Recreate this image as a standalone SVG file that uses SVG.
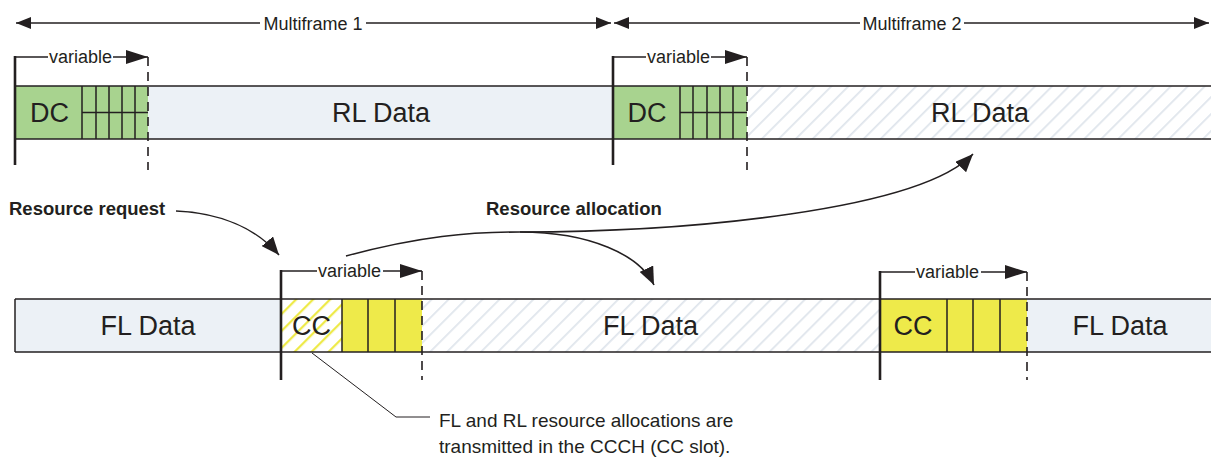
<svg xmlns="http://www.w3.org/2000/svg" width="1211" height="457" viewBox="0 0 1211 457">
<style>
text{font-family:"Liberation Sans",Arial,sans-serif;fill:#231f20}
.big{font-size:27px;text-anchor:middle}
.sm{font-size:18px}
.bold{font-size:18.5px;font-weight:bold}
.note{font-size:19px}
.bar{stroke:#231f20;stroke-width:1.5}
.blue{fill:#ecf1f6}
.green{fill:#a8d38f}
.yellow{fill:#eeea4a}
.cell{stroke:#231f20;stroke-width:1.5}
.ln{stroke:#231f20;stroke-width:1.5;fill:none}
.solid{stroke:#231f20;stroke-width:2.6;fill:none}
.dash{stroke:#231f20;stroke-width:1.6;stroke-dasharray:9 6;fill:none}
.curve{stroke:#231f20;stroke-width:1.6;fill:none}
</style>
<defs>
<pattern id="hg" width="12" height="12" patternUnits="userSpaceOnUse" patternTransform="rotate(45)">
<rect width="12" height="12" fill="#ffffff"/>
<line x1="0" y1="0" x2="0" y2="12" stroke="#dfe5ec" stroke-width="3.5"/>
</pattern>
<pattern id="hy" width="12" height="12" patternUnits="userSpaceOnUse" patternTransform="rotate(45)">
<rect width="12" height="12" fill="#ffffff"/>
<line x1="0" y1="0" x2="0" y2="12" stroke="#eeea4a" stroke-width="4.5"/>
</pattern>
<marker id="am" viewBox="0 0 15 12" refX="15" refY="6" markerWidth="15" markerHeight="12" markerUnits="userSpaceOnUse" orient="auto-start-reverse">
<path d="M0,0 L15,6 L0,12 z" fill="#231f20"/>
</marker>
<marker id="av" viewBox="0 0 22 14" refX="22" refY="7" markerWidth="22" markerHeight="14" markerUnits="userSpaceOnUse" orient="auto">
<path d="M0,0 L22,7 L0,14 z" fill="#231f20"/>
</marker>
<marker id="ar" viewBox="0 0 18 15" refX="18" refY="7.5" markerWidth="18" markerHeight="15" markerUnits="userSpaceOnUse" orient="auto">
<path d="M0,0 L18,7.5 L0,15 z" fill="#231f20"/>
</marker>
</defs>

<!-- Multiframe spans -->
<g id="multiframe1">
<line class="ln" x1="16" y1="23" x2="260" y2="23" marker-start="url(#am)"/>
<line class="ln" x1="366" y1="23" x2="611" y2="23" marker-end="url(#am)"/>
<text class="sm" x="313" y="30" text-anchor="middle">Multiframe 1</text>
</g>
<g id="multiframe2">
<line class="ln" x1="614" y1="23" x2="860" y2="23" marker-start="url(#am)"/>
<line class="ln" x1="964" y1="23" x2="1209" y2="23" marker-end="url(#am)"/>
<text class="sm" x="912" y="30" text-anchor="middle">Multiframe 2</text>
</g>

<!-- Top (RL) bar -->
<g id="rl-bar">
<rect class="green" x="15" y="86" width="133" height="53"/>
<rect class="blue" x="148" y="86" width="465" height="53"/>
<rect class="green" x="613" y="86" width="134" height="53"/>
<rect fill="url(#hg)" x="747" y="86" width="470" height="53"/>
<line class="bar" x1="15" y1="86" x2="1211" y2="86"/>
<line class="bar" x1="15" y1="139" x2="1211" y2="139"/>
</g>
<g id="dc1">
<path class="cell" d="M82,86 V139 M96,86 V139 M109,86 V139 M122,86 V139 M135,86 V139 M82,112.5 H148" fill="none"/>
<text class="big" x="49.5" y="121.5">DC</text>
</g>
<g id="rl-data1"><text class="big" x="381" y="121.5">RL Data</text></g>
<g id="dc2">
<path class="cell" d="M680,86 V139 M693,86 V139 M707,86 V139 M720,86 V139 M733,86 V139 M680,112.5 H747" fill="none"/>
<text class="big" x="647" y="121.5">DC</text>
</g>
<g id="rl-data2"><text class="big" x="980" y="121.5">RL Data</text></g>

<!-- Bottom (FL) bar -->
<g id="fl-bar">
<rect class="blue" x="15" y="299" width="266" height="53"/>
<rect fill="url(#hy)" x="281" y="299" width="61" height="53"/>
<rect class="yellow" x="342" y="299" width="80" height="53"/>
<rect fill="url(#hg)" x="422" y="299" width="458" height="53"/>
<rect class="yellow" x="880" y="299" width="147" height="53"/>
<rect class="blue" x="1027" y="299" width="190" height="53"/>
<line class="bar" x1="15" y1="299" x2="1211" y2="299"/>
<line class="bar" x1="15" y1="352" x2="1211" y2="352"/>
<line class="bar" x1="15" y1="299" x2="15" y2="352"/>
</g>
<g id="fl-data1"><text class="big" x="148" y="334.5">FL Data</text></g>
<g id="cc1">
<path class="cell" d="M342,299 V352 M368,299 V352 M395,299 V352" fill="none"/>
<text class="big" x="311.5" y="334.5">CC</text>
</g>
<g id="fl-data2"><text class="big" x="650.5" y="334.5">FL Data</text></g>
<g id="cc2">
<path class="cell" d="M947,299 V352 M973,299 V352 M1000,299 V352" fill="none"/>
<text class="big" x="913" y="334.5">CC</text>
</g>
<g id="fl-data3"><text class="big" x="1120" y="334.5">FL Data</text></g>

<!-- variable brackets -->
<g id="variable1">
<line class="solid" x1="15" y1="56" x2="15" y2="165"/>
<line class="dash" x1="148" y1="57" x2="148" y2="170"/>
<line class="ln" x1="15" y1="57" x2="48" y2="57"/>
<line class="ln" x1="113" y1="57" x2="148" y2="57" marker-end="url(#av)"/>
<text class="sm" x="49" y="63">variable</text>
</g>
<g id="variable2">
<line class="solid" x1="613" y1="56" x2="613" y2="165"/>
<line class="dash" x1="747" y1="57" x2="747" y2="170"/>
<line class="ln" x1="613" y1="57" x2="646" y2="57"/>
<line class="ln" x1="711" y1="57" x2="747" y2="57" marker-end="url(#av)"/>
<text class="sm" x="647" y="63">variable</text>
</g>
<g id="variable3">
<line class="solid" x1="281" y1="270" x2="281" y2="380"/>
<line class="dash" x1="422" y1="271" x2="422" y2="380"/>
<line class="ln" x1="281" y1="271" x2="317" y2="271"/>
<line class="ln" x1="383" y1="271" x2="422" y2="271" marker-end="url(#av)"/>
<text class="sm" x="318" y="277">variable</text>
</g>
<g id="variable4">
<line class="solid" x1="880" y1="271" x2="880" y2="380"/>
<line class="dash" x1="1027" y1="272" x2="1027" y2="380"/>
<line class="ln" x1="880" y1="272" x2="915" y2="272"/>
<line class="ln" x1="981" y1="272" x2="1027" y2="272" marker-end="url(#av)"/>
<text class="sm" x="916" y="278">variable</text>
</g>

<!-- labels -->
<g id="resource-request"><text class="bold" x="9" y="215">Resource request</text></g>
<g id="resource-allocation"><text class="bold" x="486" y="215">Resource allocation</text></g>
<g id="callout">
<text class="note" x="439" y="427">FL and RL resource allocations are</text>
<text class="note" x="439" y="453">transmitted in the CCCH (CC slot).</text>
</g>

<!-- connectors -->
<g id="connectors">
<path class="curve" d="M176,211 C220,213 256,228 279,255" marker-end="url(#ar)"/>
<path class="curve" d="M346,256 C420,236 470,232 520,232 C690,232 920,210 973,154" marker-end="url(#ar)"/>
<path class="curve" d="M520,232 C590,232 640,255 654,285" marker-end="url(#ar)"/>
<polyline class="ln" style="stroke-width:1" points="312,353 396,417 430,417"/>
</g>
</svg>
